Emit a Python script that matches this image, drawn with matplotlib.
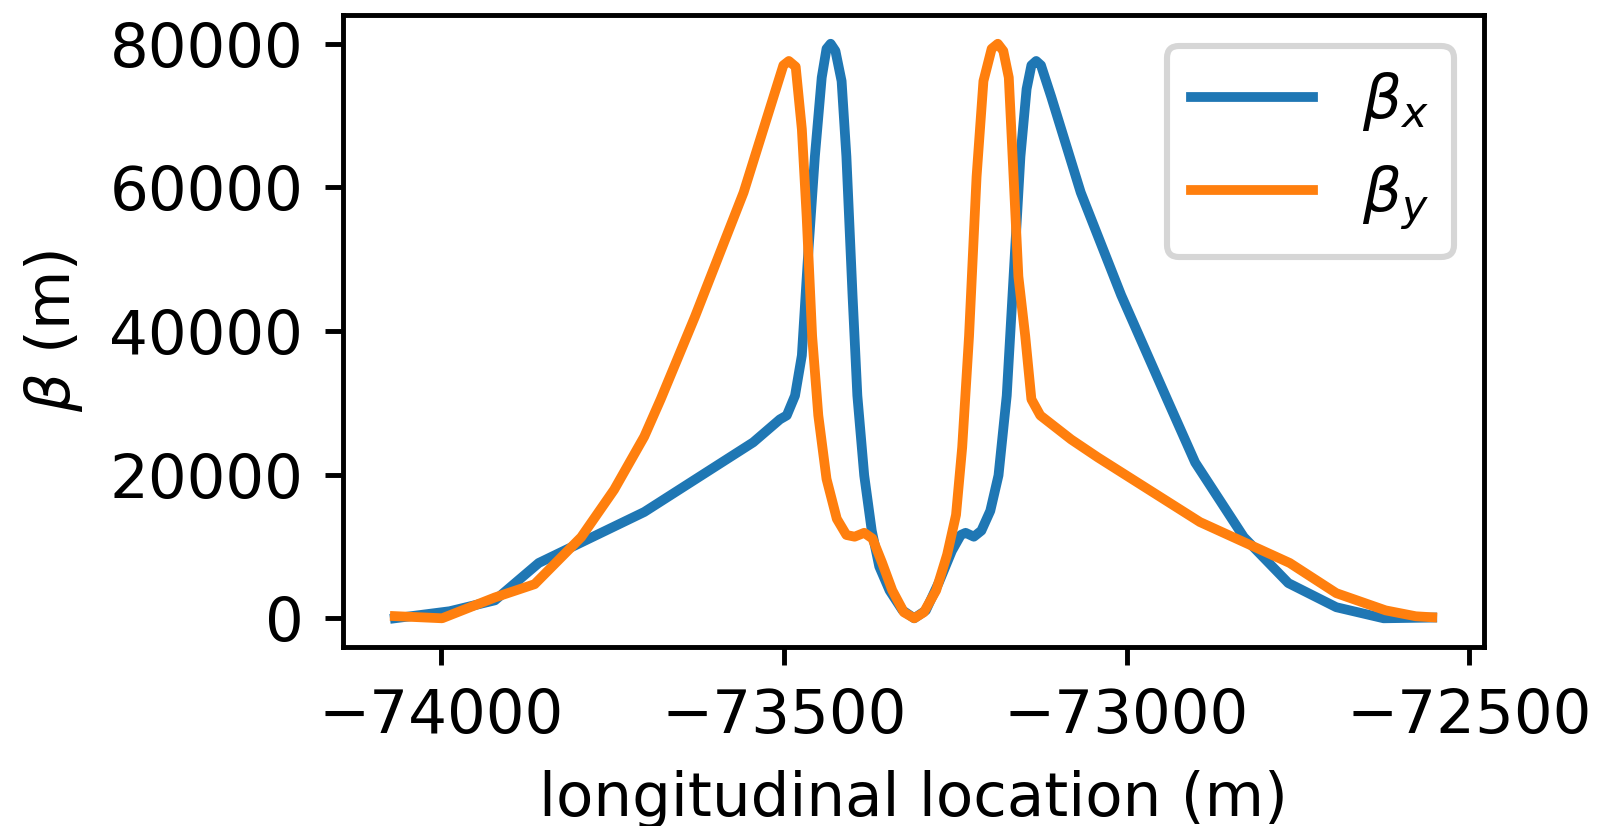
#! /usr/bin/env python3

# beta functions through the interaction region

import matplotlib
matplotlib.use("Agg")
import matplotlib.pyplot as plt

# longitudinal positions (m) and beta values (m)
s_x = [-74068, -73988, -73922, -73858, -73704, -73545, -73506, -73496, -73484, -73474,
       -73465, -73455, -73445, -73438, -73432, -73425, -73416, -73409, -73400, -73393,
       -73383, -73372, -73361, -73346, -73327, -73310, -73293, -73274, -73255, -73242,
       -73235, -73223, -73212, -73199, -73187, -73175, -73165, -73155, -73146, -73139,
       -73132, -73125, -73110, -73067, -73008, -72941, -72900, -72829, -72764, -72694,
       -72625, -72554]
beta_x = [0, 980, 2500, 7700, 14800, 24500, 27700, 28250, 31000, 36600,
          50400, 64300, 75300, 79300, 80000, 79000, 74800, 64300, 44900, 31000,
          19900, 12200, 7200, 3880, 1100, 0, 1100, 5000, 9400, 11600,
          11900, 11360, 12200, 14960, 19900, 31000, 47600, 64300, 73700, 77000,
          77600, 77000, 72600, 59300, 45000, 30500, 21700, 11300, 4900, 1540,
          0, 100]

s_y = [-74068, -73999, -73922, -73864, -73796, -73748, -73704, -73680, -73630, -73559,
       -73501, -73493, -73483, -73474, -73467, -73459, -73450, -73438, -73423, -73409,
       -73397, -73383, -73371, -73357, -73342, -73325, -73310, -73296, -73278, -73262,
       -73249, -73240, -73230, -73219, -73209, -73197, -73188, -73180, -73172, -73165,
       -73158, -73148, -73139, -73126, -73081, -73042, -72893, -72762, -72694, -72622,
       -72578, -72554]
beta_y = [300, 0, 2900, 4750, 11300, 17900, 25300, 30500, 42000, 59300,
          77000, 77600, 76800, 68100, 55950, 39300, 28250, 19400, 13850, 11600,
          11360, 11900, 11100, 7760, 3880, 830, 0, 830, 3880, 8860,
          14400, 23800, 39300, 61500, 74800, 79300, 80000, 79000, 75300, 61500,
          47600, 39300, 30500, 28250, 24900, 22400, 13400, 7700, 3500, 1100,
          280, 140]


def main():
    plt.rcParams["xtick.major.size"] = 3.0
    plt.rcParams["ytick.major.size"] = 3.0
    fig = plt.figure(figsize=(1602 / 440, 826 / 440), dpi=440)
    ax = fig.add_axes([0.2141, 0.2167, 0.7123, 0.7651])
    ax.plot(s_x, beta_x, lw=1.6, label=r"$\beta_x$")
    ax.plot(s_y, beta_y, lw=1.6, label=r"$\beta_y$")
    ax.set_xlabel("longitudinal location (m)")
    ax.set_ylabel(r"$\beta$ (m)")
    ax.legend(loc="upper right")
    fig.savefig("out.png", dpi=440)


if __name__ == "__main__":
    main()
